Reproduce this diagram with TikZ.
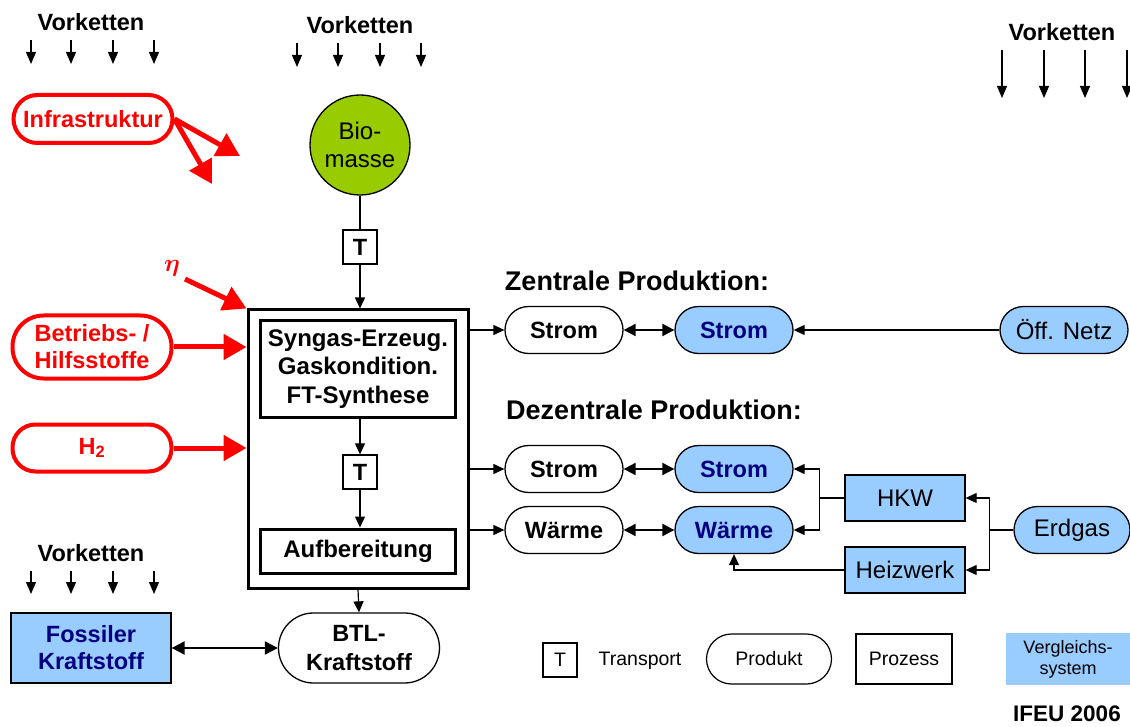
\documentclass[tikz,border=0pt]{standalone}
\usepackage{fontspec}
\setmainfont{Liberation Sans}
\usetikzlibrary{arrows.meta,calc}
\definecolor{cmpblue}{HTML}{99CCFF}
\definecolor{navy}{HTML}{000080}
\definecolor{bio}{HTML}{99CC00}
\begin{document}
\begin{tikzpicture}[x=1pt,y=-1pt,
  every node/.style={inner sep=0pt,align=center},
  bold/.style={font=\fontsize{23.5}{27}\selectfont\bfseries},
  plain/.style={font=\fontsize{24}{28}\selectfont},
  small/.style={font=\fontsize{19.5}{20}\selectfont},
  prod/.style={draw,line width=1.3pt,rounded corners=23.5pt,minimum width=118pt,minimum height=47pt,bold},
  cprod/.style={prod,fill=cmpblue,text=navy},
  redprod/.style={draw=red,line width=4pt,rounded corners=#1,minimum width=159pt,text=red,bold},
  proc/.style={draw,line width=3pt,minimum width=195pt,font=\fontsize{24}{28.5}\selectfont\bfseries},
  cproc/.style={draw,line width=1.3pt,fill=cmpblue,minimum width=120pt,minimum height=46pt,plain},
  tbox/.style={draw,line width=1.3pt,minimum size=34pt,bold},
  arr/.style={line width=1.2pt,-{Triangle[length=11pt,width=10pt]}},
  darr/.style={line width=2pt,{Triangle[length=12pt,width=12pt]}-{Triangle[length=12pt,width=12pt]}},
  redarr/.style={draw=red,line width=5pt,-{Triangle[length=23pt,width=25pt]}},
  vk/.style={line width=1.2pt,-{Triangle[length=12pt,width=10pt]}},
  head/.style={font=\fontsize{27}{27}\selectfont\bfseries}
]
\useasboundingbox (0,0) rectangle (1130,727);

% upstream chains
\node[bold] (vk1) at (91,22) {Vorketten};
\node[bold] (vk2) at (360,25) {Vorketten};
\node[bold] (vk3) at (1062,32) {Vorketten};
\node[bold] (vk4) at (91,553) {Vorketten};
\foreach \x in {31,71,113,154} \draw[vk] (\x,40) -- (\x,64);
\foreach \x in {297,338,380,421} \draw[vk] (\x,43) -- (\x,67);
\foreach \x in {1002,1044,1085,1127} \draw[vk] (\x,50) -- (\x,98);
\foreach \x in {31,71,113,154} \draw[vk] (\x,571) -- (\x,594);

% red inputs
\node[redprod=24pt,minimum height=48pt] (infra) at (93,119) {Infrastruktur};
\coordinate (inf1) at (240,156);
\coordinate (inf2) at (212,184);
\draw[redarr] (infra.east) -- (inf1);
\draw[redarr] (infra.east) -- (inf2);
\node[redprod=31pt,minimum height=63pt] (betr) at (92,347) {Betriebs- /\\Hilfsstoffe};
\node[redprod=23pt,minimum height=47pt] (h2) at (92,448) {H\textsubscript{2}};
\node[text=red,font=\fontsize{31}{31}\selectfont\boldmath] (eta) at (172,268) {$\eta$};
\coordinate (etastart) at (185,279);

% biomass and conversion chain
\node[draw,line width=1.3pt,circle,fill=bio,minimum size=100pt,plain] (bio) at (360,145) {Bio-\\masse};
\node[tbox] (t1) at (360,247) {T};
\node[draw,line width=3pt,minimum width=220pt,minimum height=278pt] (outer) at (358,449) {};
\node[proc,minimum height=96pt] (syn) at (358,369) {Syngas-Erzeug.\\Gaskondition.\\FT-Synthese};
\node[tbox] (t2) at (360,472) {T};
\node[proc,minimum height=44pt] (auf) at (358,551) {Aufbereitung};
\node[prod,rounded corners=35pt,minimum width=161pt,minimum height=70pt,font=\fontsize{23.5}{29}\selectfont\bfseries] (btl) at (359,648) {BTL-\\Kraftstoff};
\node[draw,line width=1.3pt,fill=cmpblue,text=navy,minimum width=160pt,minimum height=70pt,bold] (foss) at (91,648) {Fossiler\\Kraftstoff};

\draw[line width=1.2pt] (bio.south) -- (t1.north);
\draw[arr] (t1.south) -- (t1.south |- outer.north);
\draw[arr] (syn.south -| t2.north) -- (t2.north);
\draw[arr] (t2.south) -- (t2.south |- auf.north);
\draw[arr] (outer.south) -- (btl.north);
\draw[line width=2pt,{Triangle[length=13pt,width=13pt]}-{Triangle[length=13pt,width=13pt]}] (foss.east) -- (btl.west);

\draw[redarr] (betr.east) -- (outer.west |- betr.east);
\draw[redarr] (h2.east) -- (outer.west |- h2.east);
\draw[redarr] (etastart) -- (outer.north west);

% central production
\node[head] (zent) at (637,281) {Zentrale Produktion:};
\node[prod] (s1) at (564,330) {Strom};
\node[cprod] (s1b) at (734,330) {Strom};
\node[prod,fill=cmpblue,minimum width=128pt,plain] (netz) at (1064,330) {Öff. Netz};
\draw[arr] (outer.east |- s1.west) -- (s1.west);
\draw[darr] (s1.east) -- (s1b.west);
\draw[arr] (netz.west) -- (s1b.east);

% decentral production
\node[head] (dez) at (654,410) {Dezentrale Produktion:};
\node[prod] (s2) at (564,469) {Strom};
\node[cprod] (s2b) at (734,469) {Strom};
\node[prod] (w2) at (564,530) {Wärme};
\node[cprod] (w2b) at (734,530) {Wärme};
\node[cproc] (hkw) at (905,498) {HKW};
\node[cproc] (hzw) at (905,570) {Heizwerk};
\node[prod,fill=cmpblue,minimum width=116pt,plain] (erd) at (1072,530) {Erdgas};
\draw[arr] (outer.east |- s2.west) -- (s2.west);
\draw[arr] (outer.east |- w2.west) -- (w2.west);
\draw[darr] (s2.east) -- (s2b.west);
\draw[darr] (w2.east) -- (w2b.west);
\draw[line width=1.2pt] (hkw.west) -- ++(-25,0) coordinate (hj);
\draw[arr] (hj) |- (s2b.east);
\draw[arr] (hj) |- (w2b.east);
\draw[arr] (hzw.west) -| (w2b.south);
\draw[line width=1.2pt] (erd.west) -- ++(-24,0) coordinate (ej);
\draw[arr] (ej) |- (hkw.east);
\draw[arr] (ej) |- (hzw.east);

% legend
\node[draw,line width=1.2pt,minimum size=34pt,small] (lt) at (560,660) {T};
\node[small] (ltxt) at (640,661) {Transport};
\node[draw,line width=1.2pt,rounded corners=25pt,minimum width=125pt,minimum height=50pt,small] (lprod) at (769,659) {Produkt};
\node[draw,line width=1.2pt,minimum width=96pt,minimum height=50pt,small] (lproz) at (904,659) {Prozess};
\node[fill=cmpblue,minimum width=124pt,minimum height=52pt,font=\fontsize{18}{21}\selectfont] (lvgl) at (1068,659) {Vergleichs-\\system};
\node[font=\fontsize{22.5}{22}\selectfont\bfseries] (ifeu) at (1067,714) {IFEU 2006};
\end{tikzpicture}
\end{document}
